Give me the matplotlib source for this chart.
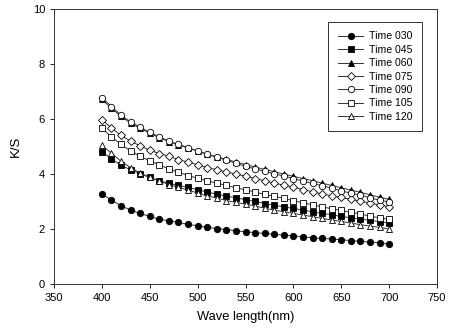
import numpy as np
import matplotlib
matplotlib.use('Agg')
import matplotlib.pyplot as plt

plt.rcParams['font.family'] = ['Liberation Sans', 'DejaVu Sans']

# Wavelength grid (nm)
wavelength = np.arange(400, 701, 10)

# K/S values
t030 = [3.28, 3.05, 2.85, 2.69, 2.57, 2.46, 2.36, 2.30, 2.24, 2.17, 2.12, 2.06, 2.02, 1.98, 1.94, 1.90,
        1.87, 1.84, 1.81, 1.78, 1.75, 1.72, 1.68, 1.66, 1.64, 1.61, 1.58, 1.55, 1.53, 1.50, 1.45]
t045 = [4.81, 4.56, 4.32, 4.16, 4.01, 3.88, 3.76, 3.67, 3.59, 3.52, 3.43, 3.35, 3.27, 3.20, 3.14, 3.07,
        3.01, 2.93, 2.87, 2.81, 2.75, 2.69, 2.63, 2.57, 2.52, 2.46, 2.41, 2.36, 2.32, 2.27, 2.22]
t060 = [6.72, 6.40, 6.10, 5.86, 5.67, 5.49, 5.33, 5.18, 5.06, 4.95, 4.84, 4.73, 4.63, 4.54, 4.44, 4.35,
        4.26, 4.17, 4.09, 4.00, 3.92, 3.84, 3.76, 3.67, 3.59, 3.50, 3.42, 3.34, 3.25, 3.16, 3.08]
t075 = [5.98, 5.68, 5.41, 5.20, 5.03, 4.87, 4.75, 4.65, 4.53, 4.44, 4.34, 4.24, 4.16, 4.08, 4.00, 3.93,
        3.84, 3.76, 3.67, 3.60, 3.53, 3.44, 3.36, 3.28, 3.21, 3.15, 3.08, 3.02, 2.95, 2.88, 2.81]
t090 = [6.79, 6.46, 6.15, 5.90, 5.71, 5.52, 5.36, 5.20, 5.08, 4.97, 4.84, 4.72, 4.61, 4.51, 4.39, 4.29,
        4.19, 4.10, 4.01, 3.93, 3.84, 3.75, 3.66, 3.58, 3.49, 3.39, 3.31, 3.24, 3.14, 3.05, 2.98]
t105 = [5.67, 5.36, 5.08, 4.85, 4.65, 4.48, 4.34, 4.19, 4.07, 3.95, 3.85, 3.76, 3.67, 3.59, 3.50, 3.43,
        3.35, 3.26, 3.19, 3.12, 3.03, 2.96, 2.88, 2.81, 2.74, 2.68, 2.61, 2.55, 2.47, 2.41, 2.35]
t120 = [5.05, 4.76, 4.47, 4.24, 4.04, 3.88, 3.75, 3.62, 3.52, 3.42, 3.31, 3.21, 3.13, 3.04, 2.97, 2.91,
        2.84, 2.76, 2.69, 2.63, 2.57, 2.51, 2.45, 2.39, 2.33, 2.28, 2.22, 2.16, 2.11, 2.06, 2.00]

labels = ['Time 030', 'Time 045', 'Time 060', 'Time 075', 'Time 090', 'Time 105', 'Time 120']
series = [t030, t045, t060, t075, t090, t105, t120]
markers = ['o', 's', '^', 'D', 'o', 's', '^']
filled = [True, True, True, False, False, False, False]

fig = plt.figure(figsize=(4.49, 3.34), dpi=100)
ax = fig.add_axes([0.1203, 0.1497, 0.853, 0.8223])

for y, lab, m, f in zip(series, labels, markers, filled):
    ms = 3.6 if m == 'D' else (4.2 if m == 's' else 4.6)
    ax.plot(wavelength, y, color='#333333', lw=0.7, marker=m, markersize=ms,
            markerfacecolor='black' if f else 'white', markeredgecolor='black',
            markeredgewidth=0.6, label=lab)

ax.set_xlim(350, 750)
ax.set_ylim(0, 10)
ax.set_xticks(np.arange(350, 751, 50))
ax.set_yticks(np.arange(0, 11, 2))
ax.tick_params(direction='out', length=3, width=0.6, labelsize=8)
for s in ax.spines.values():
    s.set_linewidth(0.7)
    s.set_color('#333333')

ax.set_xlabel('Wave length(nm)', fontsize=9.3, labelpad=6)
ax.set_ylabel('K/S', fontsize=9.5, labelpad=8)

leg = ax.legend(loc='upper right', bbox_to_anchor=(0.961, 0.954), borderaxespad=0,
                fontsize=7.6, frameon=True, fancybox=False, edgecolor='black',
                handlelength=2.4, handletextpad=0.55, labelspacing=0.32, borderpad=0.9)
leg.get_frame().set_linewidth(0.7)

fig.savefig('out.png', dpi=100)
